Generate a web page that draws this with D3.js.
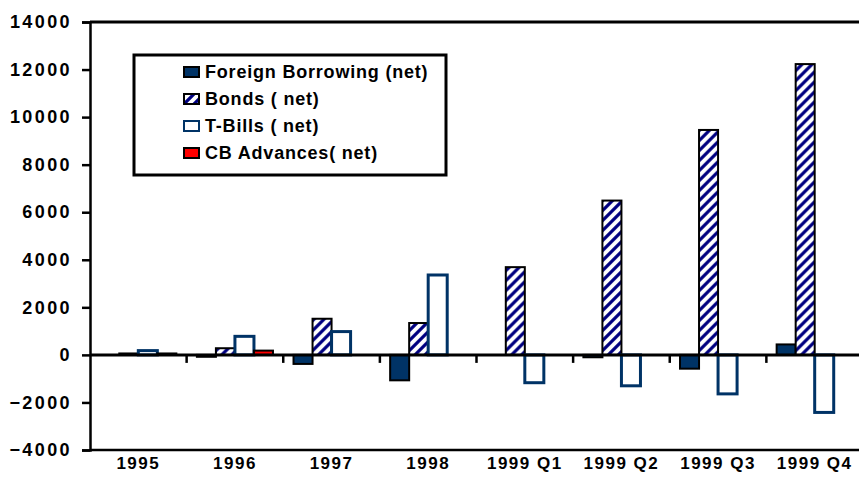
<!DOCTYPE html>
<html>
<head>
<meta charset="utf-8">
<script src="https://cdn.jsdelivr.net/npm/d3@7"></script>
<style>
  body { margin: 0; background: #fff; }
  svg text { font-family: "Liberation Sans", Arial, sans-serif; font-weight: bold; fill: #000; }
</style>
</head>
<body>
<div id="chart"></div>
<script>
// categories and series
var categories = ["1995", "1996", "1997", "1998", "1999 Q1", "1999 Q2", "1999 Q3", "1999 Q4"];
var seriesNames = ["Foreign Borrowing (net)", "Bonds ( net)", "T-Bills ( net)", "CB Advances( net)"];
var foreignBorrowing = [0, -80, -380, -1070, 0, -100, -580, 440];
var bonds = [60, 280, 1520, 1340, 3690, 6490, 9460, 12230];
var tBills = [180, 780, 980, 3360, -1170, -1300, -1640, -2420];
var cbAdvances = [60, 180, 0, 0, 0, 0, 0, 0];
var yTicks = [-4000, -2000, 0, 2000, 4000, 6000, 8000, 10000, 12000, 14000];

var seriesValues = [foreignBorrowing, bonds, tBills, cbAdvances];

var width = 859, height = 492;
var plotLeft = 90, plotRight = 863, plotTop = 22, plotBottom = 450;

var svg = d3.select("#chart").append("svg")
    .attr("width", width)
    .attr("height", height);

var defs = svg.append("defs");
var pat = defs.append("pattern")
    .attr("id", "stripes")
    .attr("patternUnits", "userSpaceOnUse")
    .attr("width", 10)
    .attr("height", 10);
pat.append("rect").attr("width", 10).attr("height", 10).attr("fill", "#fff");
pat.append("path")
    .attr("d", "M-2,12 L12,-2 M-2,2 L2,-2 M8,12 L12,8")
    .attr("stroke", "#000080")
    .attr("stroke-width", 3.2);

var styles = [
    { fill: "#003366", stroke: "#000", sw: 2 },
    { fill: "url(#stripes)", stroke: "#000", sw: 2 },
    { fill: "#fff", stroke: "#003366", sw: 3 },
    { fill: "#ff0000", stroke: "#000", sw: 2 }
];

var x0 = d3.scaleBand().domain(categories).range([plotLeft, plotRight]).padding(0);
var x1 = d3.scaleBand().domain(d3.range(seriesNames.length))
    .range([0, x0.bandwidth()]).paddingInner(0).paddingOuter(0.54);
var y = d3.scaleLinear().domain([-4000, 14000]).range([plotBottom, plotTop]);

// bars
var groups = svg.selectAll(".grp")
    .data(categories)
    .enter().append("g")
    .attr("class", "grp")
    .attr("transform", function (d) { return "translate(" + x0(d) + ",0)"; });

groups.selectAll("rect")
    .data(function (d, i) {
        return seriesValues.map(function (vals, s) { return { s: s, v: vals[i] }; })
            .filter(function (d) { return d.v !== 0; });
    })
    .enter().append("rect")
    .attr("x", function (d) { return x1(d.s); })
    .attr("y", function (d) { return Math.min(y(d.v), y(0)); })
    .attr("width", x1.bandwidth())
    .attr("height", function (d) { return Math.abs(y(d.v) - y(0)); })
    .attr("fill", function (d) { return styles[d.s].fill; })
    .attr("stroke", function (d) { return styles[d.s].stroke; })
    .attr("stroke-width", function (d) { return styles[d.s].sw; });

// frame
svg.append("line").attr("x1", plotLeft).attr("x2", plotRight).attr("y1", plotTop).attr("y2", plotTop)
    .attr("stroke", "#000").attr("stroke-width", 3);
svg.append("line").attr("x1", plotLeft).attr("x2", plotRight).attr("y1", plotBottom).attr("y2", plotBottom)
    .attr("stroke", "#000").attr("stroke-width", 2.5);

// zero line + category ticks
svg.append("line").attr("x1", plotLeft).attr("x2", plotRight).attr("y1", y(0)).attr("y2", y(0))
    .attr("stroke", "#000").attr("stroke-width", 3);
svg.selectAll(".ctick")
    .data(categories.slice(1))
    .enter().append("line")
    .attr("x1", function (d) { return x0(d); })
    .attr("x2", function (d) { return x0(d); })
    .attr("y1", y(0))
    .attr("y2", y(0) + 8)
    .attr("stroke", "#000").attr("stroke-width", 2.5);

// y axis
var yAxis = svg.append("g")
    .attr("transform", "translate(" + plotLeft + ",0)")
    .call(d3.axisLeft(y).tickValues(yTicks).tickSize(8).tickPadding(10).tickFormat(d3.format("d")));
yAxis.select(".domain").attr("stroke", "#000").attr("stroke-width", 2.5);
yAxis.selectAll(".tick line").attr("stroke", "#000").attr("stroke-width", 2.5);
yAxis.selectAll(".tick text")
    .style("font-size", "18px")
    .style("letter-spacing", "2.4px");

// category labels
var xAxis = svg.append("g")
    .attr("transform", "translate(0," + plotBottom + ")")
    .call(d3.axisBottom(x0).tickSize(0).tickPadding(7));
xAxis.select(".domain").remove();
xAxis.selectAll(".tick text")
    .style("font-size", "17px")
    .style("letter-spacing", "1.5px");

// legend
var lg = svg.append("g").attr("transform", "translate(134,55)");
lg.append("rect").attr("width", 312).attr("height", 120)
    .attr("fill", "#fff").attr("stroke", "#000").attr("stroke-width", 3);
var items = lg.selectAll(".item")
    .data(seriesNames)
    .enter().append("g")
    .attr("transform", function (d, i) { return "translate(50," + (12 + i * 27) + ")"; });
items.append("rect")
    .attr("width", 15).attr("height", 10)
    .attr("fill", function (d, i) { return styles[i].fill; })
    .attr("stroke", function (d, i) { return styles[i].stroke; })
    .attr("stroke-width", 2);
items.append("text")
    .attr("x", 21).attr("y", 11)
    .style("font-size", "18px")
    .style("letter-spacing", "0.8px")
    .text(function (d) { return d; });
</script>
</body>
</html>
